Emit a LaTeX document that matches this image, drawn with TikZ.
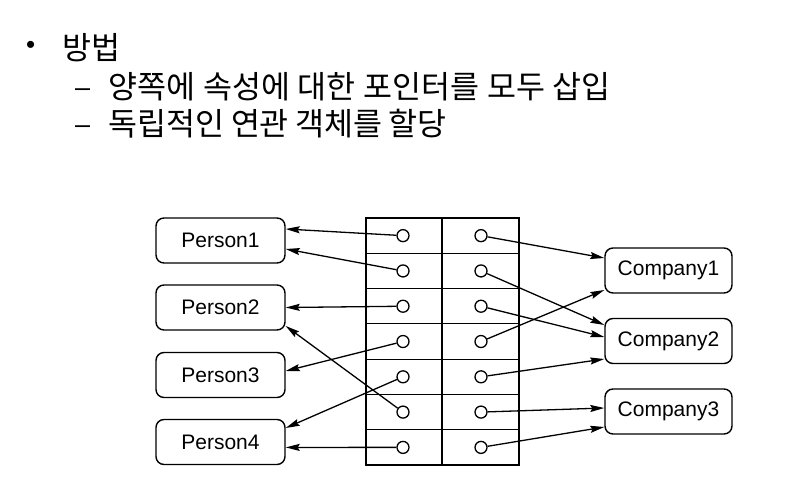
\documentclass[tikz,border=0pt]{standalone}
\usepackage{fontspec}
\setmainfont{Liberation Sans}
\newfontfamily\kr{Noto Sans CJK KR}
\usetikzlibrary{arrows.meta}
\begin{document}
\begin{tikzpicture}[x=1pt,y=-1pt,
 ent/.style={draw, line width=1.4pt, rounded corners=8pt, minimum height=45pt, font=\fontsize{21}{24}\selectfont, inner sep=0pt},
 dot/.style={circle, draw, line width=1.3pt, minimum size=12pt, inner sep=0pt, fill=white},
 ptr/.style={line width=1.3pt, -{Stealth[length=14pt,width=7pt,inset=2pt]}},
 grid/.style={line width=1.1pt},
 txt/.style={anchor=west, inner sep=0pt, font=\kr\fontsize{31.5}{36}\selectfont},
 dsh/.style={anchor=base west, inner sep=0pt, font=\fontsize{27}{30}\selectfont}]
\useasboundingbox (0,0) rectangle (805,498);
% heading text
\node[txt, font=\fontsize{26}{30}\selectfont] (b0) at (26,47) {•};
\node[txt] (t0) at (62,47.5) {방법};
\node[dsh] (d1) at (75,96) {–};
\node[txt] (t1) at (108.5,87) {\makebox[502pt][s]{양쪽에 속성에 대한 포인터를 모두 삽입}};
\node[dsh] (d2) at (75,133) {–};
\node[txt] (t2) at (108.5,124) {\makebox[338pt][s]{독립적인 연관 객체를 할당}};
% entities
\node[ent, minimum width=129pt] (p1) at (220.5,240.5) {Person1};
\node[ent, minimum width=129pt] (p2) at (220.5,307.5) {Person2};
\node[ent, minimum width=129pt] (p3) at (220.5,375) {Person3};
\node[ent, minimum width=129pt] (p4) at (220.5,442) {Person4};
\node[ent, minimum width=127pt] (c1) at (668.5,270.5) {Company1};
\node[ent, minimum width=127pt] (c2) at (668.5,341) {Company2};
\node[ent, minimum width=127pt] (c3) at (668.5,411.5) {Company3};
% table
\draw[grid] (366,218) rectangle (519,465);
\draw[grid] (442,218) -- (442,465);
\foreach \k in {1,...,6} { \draw[grid] (366,{218+35.29*\k}) -- (519,{218+35.29*\k}); }
\foreach \i in {1,...,7} {
  \node[dot] (l\i) at (403,{218+35.29*(\i-0.5)}) {};
  \node[dot] (r\i) at (481,{218+35.29*(\i-0.5)}) {};
}
% left pointers
\draw[ptr] (l1) -- ([yshift=11.5pt]p1.east);
\draw[ptr] (l2) -- ([yshift=-8.5pt]p1.east);
\draw[ptr] (l3) -- ([yshift=0pt]p2.east);
\draw[ptr] (l4) -- ([yshift=4pt]p3.east);
\draw[ptr] (l5) -- ([yshift=14pt]p4.east);
\draw[ptr] (l6) -- ([yshift=-18.5pt]p2.east);
\draw[ptr] (l7) -- ([yshift=-5.4pt]p4.east);
% right pointers
\draw[ptr] (r1) -- ([yshift=12.5pt]c1.west);
\draw[ptr] (r2) -- ([yshift=16pt]c2.west);
\draw[ptr] (r3) -- ([yshift=4pt]c2.west);
\draw[ptr] (r4) -- ([yshift=-19.5pt]c1.west);
\draw[ptr] (r5) -- ([yshift=-18pt]c2.west);
\draw[ptr] (r6) -- ([yshift=3.5pt]c3.west);
\draw[ptr] (r7) -- ([yshift=-15.5pt]c3.west);
\end{tikzpicture}
\end{document}
